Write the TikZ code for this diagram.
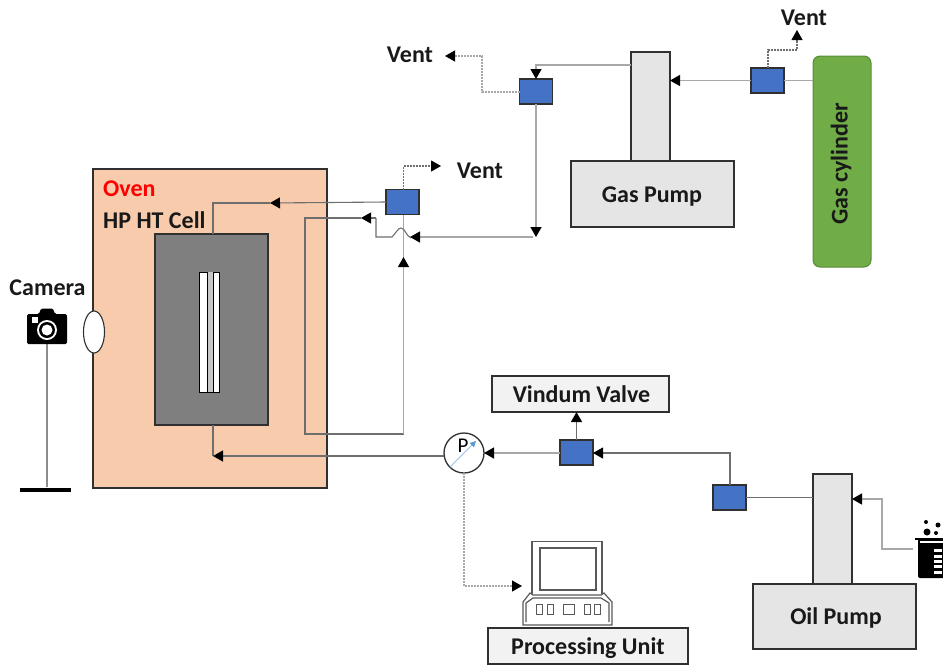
\documentclass[tikz,border=0pt]{standalone}
\usepackage{fontspec}
\setmainfont{Carlito}
\usetikzlibrary{arrows.meta,shapes.geometric}
\definecolor{ovenc}{HTML}{F8CBAD}
\definecolor{cellc}{HTML}{7F7F7F}
\definecolor{valvec}{HTML}{4472C4}
\definecolor{pumpc}{HTML}{E5E5E5}
\definecolor{cylc}{HTML}{70AD47}
\definecolor{linec}{HTML}{6E6E6E}
\definecolor{lightc}{HTML}{A8A8A8}
\definecolor{edgec}{HTML}{303030}
\definecolor{gaugec}{HTML}{9DC3E6}
\definecolor{gaugeh}{HTML}{5B9BD5}
\tikzset{
  lbl/.style={font=\bfseries\fontsize{24}{26}\selectfont,text=black!90,inner sep=0pt},
  valvebox/.style={draw=edgec,fill=valvec,line width=1.4pt,minimum width=33pt,minimum height=25pt,inner sep=0pt,outer sep=0pt},
  pumpbox/.style={draw=edgec,fill=pumpc,line width=1.3pt,inner sep=0pt,outer sep=0pt},
  labelbox/.style={draw=edgec,fill=black!5,line width=1.3pt,inner sep=0pt,outer sep=0pt},
  pipe/.style={draw=linec,line width=1.1pt},
  lightpipe/.style={draw=lightc,line width=1.3pt},
  flow/.style={pipe,-{Triangle[length=10pt,width=11pt,color=black]}},
  lightflow/.style={lightpipe,-{Triangle[length=10pt,width=11pt,color=black]}},
  ventline/.style={draw=linec,line width=1.1pt,dash pattern=on 2pt off 1pt},
  ventflow/.style={ventline,-{Triangle[length=10pt,width=11pt,color=black]}},
  lightvent/.style={draw=lightc,line width=1.2pt,dash pattern=on 2pt off 1pt,-{Triangle[length=10pt,width=11pt,color=black]}},
  iconline/.style={draw=black!65,line width=1.2pt},
}
\begin{document}
\begin{tikzpicture}[x=1pt,y=-1pt]
\useasboundingbox (0,0) rectangle (943,665);
% oven and cell
\node[draw=edgec,fill=ovenc,line width=1.2pt,minimum width=234pt,minimum height=319pt,inner sep=0pt,outer sep=0pt] (oven) at (210,328.5) {};
\node[draw=edgec,fill=cellc,line width=1.2pt,minimum width=113pt,minimum height=191pt,inner sep=0pt,outer sep=0pt] (cell) at (211.5,329.5) {};
\node[draw=black,fill=white,line width=1pt,minimum width=20pt,minimum height=120pt,inner sep=0pt] (core) at (209,332) {};
\fill[black!22] (207,272) rectangle (213,392);
\draw[black,line width=1pt] (207,272) -- (207,392) (213,272) -- (213,392);
\node[draw=edgec,fill=white,line width=1.1pt,ellipse,minimum width=21pt,minimum height=42pt,inner sep=0pt] (port) at (94,332) {};
\node[lbl,anchor=west,text=red] (ovenlbl) at (103,188.5) {Oven};
\node[lbl,anchor=west] (celllbl) at (103,220.5) {HP HT Cell};
% camera
\node[lbl] (camlbl) at (47.5,287.5) {Camera};
\coordinate (camfoot) at (47,344);
\node[fill=black,minimum height=4pt,inner sep=0pt,minimum width=51pt] (stand) at (45,489.5) {};
\draw[draw=black!45,line width=1.2pt] (camfoot) -- (stand.north -| camfoot);
\fill[black,rounded corners=1.5pt] (27,344) -- (27,314) -- (39,314) -- (41,308.5) -- (53,308.5) -- (55,314) -- (67,314) -- (67,344) -- cycle;
\fill[white] (47,330) circle (10pt);
\fill[black] (47,330) circle (8pt);
\fill[white] (47,330) circle (5.5pt);
\fill[white] (31.5,317) rectangle (38,322.5);
% gas side
\node[pumpbox,minimum width=39pt,minimum height=109pt] (gascol) at (650.5,106.5) {};
\node[pumpbox,minimum width=163pt,minimum height=66pt] (gasbase) at (652.5,194) {};
\node[lbl] at (652,197) {Gas Pump};
\node[draw=cylc!80!black,fill=cylc,line width=1pt,rounded corners=7pt,minimum width=58pt,minimum height=211pt,inner sep=0pt,outer sep=0pt] (cyl) at (842,161.5) {};
\node[lbl,rotate=90] at (841,164) {Gas cylinder};
\node[valvebox] (vB) at (767.5,80.5) {};
\node[valvebox] (vA) at (536,91.5) {};
\node[valvebox] (vC) at (402.5,202) {};
\node[lbl] (vent1) at (804,17.5) {Vent};
\node[lbl] (vent2) at (410,54.5) {Vent};
\node[lbl] (vent3) at (480,170.5) {Vent};
% oil side
\node[pumpbox,minimum width=39pt,minimum height=110pt] (oilcol) at (832.5,529) {};
\node[pumpbox,minimum width=163pt,minimum height=65pt] (oilbase) at (834.5,616.5) {};
\node[lbl] at (836,618) {Oil Pump};
\node[labelbox,minimum width=177pt,minimum height=36pt] (vindum) at (580.5,394) {};
\node[lbl] at (581.5,394.5) {Vindum Valve};
\node[labelbox,minimum width=200pt,minimum height=36pt] (procu) at (588,646) {};
\node[lbl] at (588,648) {Processing Unit};
\node[valvebox] (vD) at (576.5,452.5) {};
\node[valvebox] (vE) at (729.5,497.5) {};
\node[draw=edgec,fill=white,line width=1.3pt,circle,minimum size=40pt,inner sep=0pt,outer sep=0pt] (gauge) at (464,453) {};
\node[font=\fontsize{21}{22}\selectfont,inner sep=0pt] (plbl) at (463,446) {P};
\draw[draw=gaugec,line width=1pt,-{Triangle[length=6pt,width=6pt,color=gaugeh]}] (450,467) -- (476,441);
% computer
\coordinate (pcleft) at (522,586);
\draw[iconline,fill=white] (532,600) -- (532,541.5) -- (602,541.5) -- (602,600);
\draw[iconline,fill=white] (540,548) rectangle (596,590);
\draw[iconline,fill=white] (523,625) -- (523,602) -- (530,593) -- (533,595) -- (601,595) -- (604,593) -- (612,602) -- (612,625) -- cycle;
\draw[iconline] (526,622) -- (526,603) -- (533,598) -- (601,598) -- (609,603) -- (609,622);
\foreach \a/\b in {536/542,547/553,563/574,584/590,594/600}{\draw[iconline,line width=1pt] (\a,604) rectangle (\b,614);}
% beaker
\coordinate (bkleft) at (913,549);
\begin{scope}
\clip (900,515) rectangle (943,600);
\fill[black] (915,537.5) rectangle (950,540);
\fill[black,rounded corners=2pt] (918,539) -- (950,539) -- (950,578) -- (918,578) -- cycle;
\fill[white] (920,540.5) -- (943,540.5) -- (943,543) -- (920,543) -- cycle;
\foreach \y in {550,556,561,566,572}{\fill[white] (934,\y-1.5) rectangle (942,\y+1.5);}
\fill[black] (927,532) circle (3.5pt) (926,522) circle (2pt) (938,525) circle (2.5pt) (936,533) circle (2pt);
\end{scope}
% named bends
\coordinate (cA) at (768,50);
\coordinate (cB) at (797,50);
\coordinate (c1) at (536,65);
\coordinate (c2) at (482,92);
\coordinate (c3) at (482,56);
\coordinate (c4) at (536,237);
\coordinate (c5) at (410,237);
\coordinate (c6) at (392,237);
\coordinate (c7) at (376,237);
\coordinate (c8) at (376,218);
\coordinate (c9) at (361,218);
\coordinate (c10) at (305,218);
\coordinate (c11) at (305,434);
\coordinate (c12) at (403.5,434);
\coordinate (c13) at (403.5,257);
\coordinate (c14) at (270,203);
\coordinate (c15) at (213,203);
\coordinate (c16) at (403.5,166);
\coordinate (c17) at (213,456);
\coordinate (c18) at (730,453);
\coordinate (c19) at (882,549);
\coordinate (c20) at (882,499);
\coordinate (c21) at (464,586);
% connectors
\draw[lightpipe] (cyl.west |- vB) -- (vB.east);
\draw[lightflow] (vB.west) -- (gascol.east |- vB);
\draw[ventflow] (vB.north -| cA) -- (cA) -- (cB) -- (797,30);
\draw[lightflow] (gascol.west |- c1) -- (c1) -- (vA.north);
\draw[lightvent] (vA.west |- c2) -- (c2) -- (c3) -- (445,56);
\draw[lightflow] (vA.south) -- (c4);
\draw[lightflow] (533,237) -- (c5);
\draw[lightpipe] (c13) -- (vC.south -| c13);
\draw[pipe] (411,238) .. controls (406,236) and (405,228) .. (401,228) .. controls (398,228) and (396,233) .. (c6) -- (c7) -- (c8);
\draw[flow] (c8) -- (c9);
\draw[pipe] (c9) -- (c10) -- (c11) -- (c12);
\draw[lightflow] (c12) -- (c13);
\draw[flow] (vC.west) -- (c14);
\draw[pipe] (c14) -- (c15) -- (cell.north -| c15);
\draw[ventflow] (vC.north -| c16) -- (c16) -- (441,166);
\draw[pipe] (cell.south -| c17) -- (c17);
\draw[flow] (gauge.west |- c17) -- (c17);
\draw[lightflow] (vD.west |- gauge) -- (gauge.east);
\draw[flow] (vD.north) -- (vindum.south -| vD.north);
\draw[flow] (vE.north -| c18) -- (c18) -- (vD.east |- c18);
\draw[pipe] (vE.east) -- (oilcol.west |- vE);
\draw[lightflow] (bkleft) -- (c19) -- (c20) -- (oilcol.east |- c20);
\draw[lightvent] (gauge.south) -- (c21) -- (pcleft);
\end{tikzpicture}
\end{document}
